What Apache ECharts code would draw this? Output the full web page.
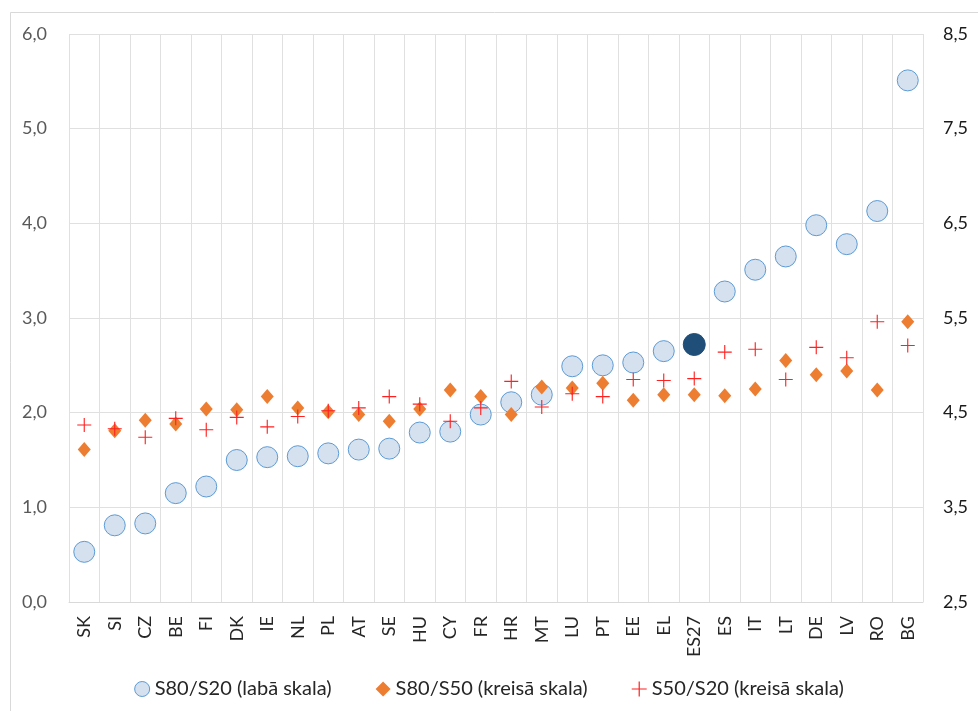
<!DOCTYPE html>
<html>
<head>
<meta charset="utf-8">
<script src="https://cdn.jsdelivr.net/npm/echarts@6/dist/echarts.min.js"></script>
<style>html,body{margin:0;padding:0;background:#fff}#c{width:978px;height:711px}</style>
</head>
<body>
<div id="c"></div>
<script>
const categories = ['SK','SI','CZ','BE','FI','DK','IE','NL','PL','AT','SE','HU','CY','FR','HR','MT','LU','PT','EE','EL','ES27','ES','IT','LT','DE','LV','RO','BG'];
const s80s20 = [3.03,3.31,3.33,3.65,3.72,4.00,4.03,4.04,4.07,4.11,4.12,4.29,4.30,4.48,4.61,4.69,4.99,5.00,5.03,5.15,5.22,5.78,6.01,6.15,6.48,6.28,6.63,8.01];
const s80s50 = [1.61,1.81,1.92,1.88,2.04,2.03,2.17,2.05,2.01,1.98,1.91,2.04,2.24,2.17,1.98,2.27,2.26,2.31,2.13,2.19,2.19,2.18,2.25,2.55,2.40,2.44,2.24,2.96];
const s50s20 = [1.87,1.83,1.74,1.94,1.82,1.95,1.85,1.96,2.02,2.05,2.17,2.09,1.91,2.05,2.33,2.06,2.20,2.17,2.35,2.34,2.36,2.64,2.67,2.35,2.69,2.58,2.96,2.71];
const leftTicks = {min:0, max:6, interval:1};
const rightTicks = {min:2.5, max:8.5, interval:1};
const highlightCat = 'ES27';

const FONT = 'Lato';
const plusPath = 'path://M4.6,0 H5.4 V4.6 H10 V5.4 H5.4 V10 H4.6 V5.4 H0 V4.6 H4.6 Z';
const fmt = v => v.toFixed(1).replace('.', ',');

const chart = echarts.init(document.getElementById('c'), null, {renderer:'canvas'});
chart.setOption({
  animation:false,
  backgroundColor:'#fff',
  textStyle:{fontFamily:FONT},
  graphic:[{type:'rect', shape:{x:10.5,y:12.5,width:1000,height:1000}, style:{fill:'none', stroke:'#d9d9d9', lineWidth:1}, silent:true}],
  grid:{left:69, right:55, top:34, bottom:109},
  legend:{
    bottom:7, left:'center', itemGap:44, itemWidth:15, itemHeight:15,
    textStyle:{fontFamily:FONT, fontSize:20, color:'#262626'},
    data:[
      {name:'S80/S20 (labā skala)', icon:'circle', itemStyle:{color:'#d6e1f0', borderColor:'#5b9bd5', borderWidth:1}},
      {name:'S80/S50 (kreisā skala)', icon:'diamond'},
      {name:'S50/S20 (kreisā skala)', icon:plusPath}
    ]
  },
  xAxis:{
    type:'category', data:categories, boundaryGap:true,
    axisLine:{show:true, lineStyle:{color:'#d9d9d9'}},
    axisTick:{show:false},
    splitLine:{show:true, interval:0, lineStyle:{color:'#e0e0e0', width:1}},
    axisLabel:{rotate:90, interval:0, margin:14, fontFamily:FONT, fontSize:18, color:'#262626'}
  },
  yAxis:[
    {type:'value', min:leftTicks.min, max:leftTicks.max, interval:leftTicks.interval,
     axisLine:{show:false}, axisTick:{show:false},
     splitLine:{show:true, lineStyle:{color:'#e0e0e0', width:1}},
     axisLabel:{formatter:fmt, fontFamily:FONT, fontSize:18, color:'#595959', margin:22}},
    {type:'value', min:rightTicks.min, max:rightTicks.max, interval:rightTicks.interval,
     axisLine:{show:false}, axisTick:{show:false}, splitLine:{show:false},
     axisLabel:{formatter:fmt, fontFamily:FONT, fontSize:18, color:'#1a1a1a', margin:20}}
  ],
  series:[
    {name:'S80/S20 (labā skala)', type:'scatter', yAxisIndex:1, symbol:'circle', symbolSize:21, z:2,
     itemStyle:{color:'#d6e1f0', borderColor:'#5b9bd5', borderWidth:1, opacity:1},
     data:s80s20.map((v,i)=> categories[i]===highlightCat ? {value:v, symbolSize:22, itemStyle:{color:'#1f4e79', borderColor:'#1f4e79'}} : v)},
    {name:'S80/S50 (kreisā skala)', type:'scatter', yAxisIndex:0, symbol:'diamond', symbolSize:[13,15], z:3,
     itemStyle:{color:'#ed7d31', opacity:1}, data:s80s50},
    {name:'S50/S20 (kreisā skala)', type:'scatter', yAxisIndex:0, symbol:plusPath, symbolSize:14, z:4,
     itemStyle:{color:'#ff2020', opacity:1}, data:s50s20}
  ]
});
</script>
</body>
</html>
